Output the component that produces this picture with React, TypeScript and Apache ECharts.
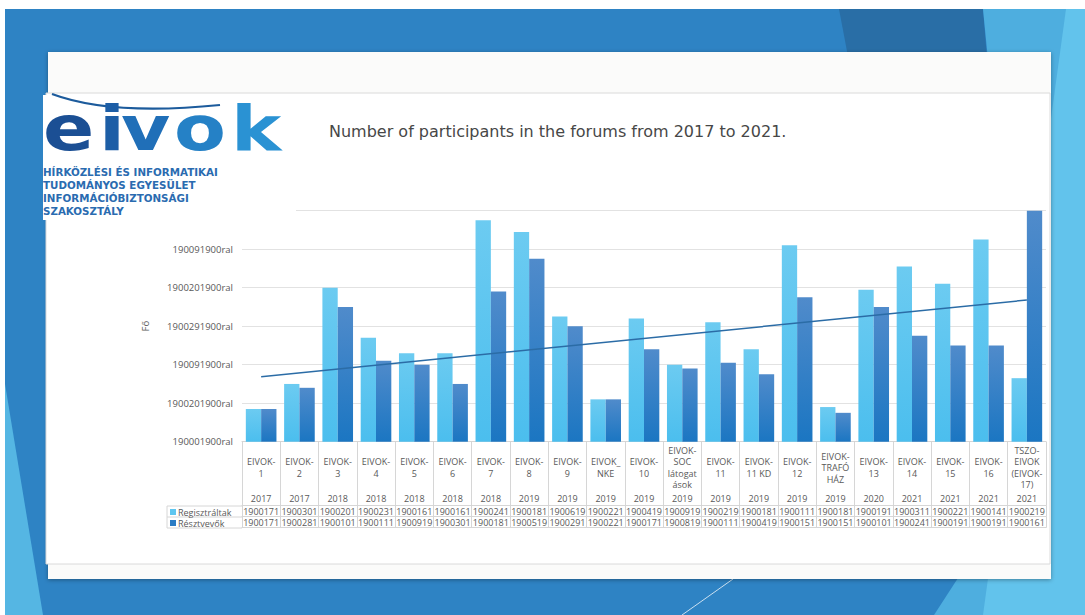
import React, { useEffect, useRef } from "react";
import * as echarts from "echarts";

const categories = [
  "EIVOK-\n1", "EIVOK-\n2", "EIVOK-\n3", "EIVOK-\n4", "EIVOK-\n5", "EIVOK-\n6", "EIVOK-\n7",
  "EIVOK-\n8", "EIVOK-\n9", "EIVOK_\nNKE", "EIVOK-\n10", "EIVOK-\nSOC\nlátogat\nások",
  "EIVOK-\n11", "EIVOK-\n11 KD", "EIVOK-\n12", "EIVOK-\nTRAFÓ\nHÁZ", "EIVOK-\n13",
  "EIVOK-\n14", "EIVOK-\n15", "EIVOK-\n16", "TSZO-\nEIVOK\n(EIVOK-\n17)",
];
const years = [
  "2017", "2017", "2018", "2018", "2018", "2018", "2018", "2019", "2019", "2019", "2019",
  "2019", "2019", "2019", "2019", "2019", "2020", "2021", "2021", "2021", "2021",
];
// values
const regisztraltak = [17, 30, 80, 54, 46, 46, 115, 109, 65, 22, 64, 40, 62, 48, 102, 18, 79, 91, 82, 105, 33];
const resztvevok = [17, 28, 70, 42, 40, 30, 78, 95, 60, 22, 48, 38, 41, 35, 75, 15, 70, 55, 50, 50, 120];
// data table texts as printed in the picture
const regTableLabels = [
  "1900171", "1900301", "1900201", "1900231", "1900161", "1900161", "1900241", "1900181",
  "1900619", "1900221", "1900419", "1900919", "1900219", "1900181", "1900111", "1900181",
  "1900191", "1900311", "1900221", "1900141", "1900219",
];
const resTableLabels = [
  "1900171", "1900281", "1900101", "1900111", "1900919", "1900301", "1900181", "1900519",
  "1900291", "1900221", "1900171", "1900819", "1900111", "1900419", "1900151", "1900151",
  "1900101", "1900241", "1900191", "1900191", "1900161",
];
// y tick labels for 0,20,...,120 as printed
const yTickLabels = [
  "190001900ral", "1900201900ral", "190091900ral", "1900291900ral", "1900201900ral", "190091900ral", "",
];
const trendStart = 33.7;
const trendEnd = 73.6;

const seriesNames = ["Regisztráltak", "Résztvevők"];
const titleText = "Number of participants in the forums from 2017 to 2021.";
const logoLetters = ["e", "i", "v", "o", "k"];
const logoLines = [
  "HÍRKÖZLÉSI ÉS INFORMATIKAI",
  "TUDOMÁNYOS EGYESÜLET",
  "INFORMÁCIÓBIZTONSÁGI",
  "SZAKOSZTÁLY",
];

const FONT = "Open Sans";
const LBL = "#595959";
const TBL = "#d6d6d6";
const GL = 242;
const GR = 1046;
const GB = 441.7;

// layout of the logo letters (position / colour only)
const letterX = [43, 99, 121, 174, 231];
const letterColor = ["#1b4f94", "#1d5ea6", "#206fb8", "#2581c6", "#2a92d3"];

function buildOption(): any {
  const trend = categories.map((_, i) =>
    i === 0 ? trendStart : i === categories.length - 1 ? trendEnd : null
  );
  const lightGrad = new echarts.graphic.LinearGradient(0, 0, 0, 1, [
    { offset: 0, color: "#6ccbf1" },
    { offset: 1, color: "#4bbeee" },
  ]);
  const darkGrad = new echarts.graphic.LinearGradient(0, 0, 0, 1, [
    { offset: 0, color: "#508bcb" },
    { offset: 1, color: "#1b76c2" },
  ]);
  const tableAxis = (data: string[], offset: number, tickLen: number, margin: number, showLabel: boolean, showLine: boolean) => ({
    type: "category",
    data,
    position: "bottom",
    offset,
    boundaryGap: true,
    axisLine: { show: showLine, lineStyle: { color: TBL, width: 1 } },
    axisTick: { show: tickLen > 0, interval: 0, length: tickLen, lineStyle: { color: TBL, width: 1 } },
    axisLabel: {
      show: showLabel,
      interval: 0,
      margin,
      verticalAlign: "middle",
      fontSize: 9,
      color: LBL,
      fontFamily: FONT,
    },
    splitLine: { show: false },
  });

  const tableLines = [506, 517, 528].map((y) => ({
    type: "line",
    z: 5,
    shape: { x1: 167, y1: y, x2: GL, y2: y },
    style: { stroke: TBL, lineWidth: 1 },
  }));

  return {
    animation: false,
    backgroundColor: "#ffffff",
    title: {
      text: titleText,
      left: 324,
      top: 118,
      textStyle: { fontSize: 16, color: "#474747", fontWeight: "normal", fontFamily: "DejaVu Sans" },
    },
    grid: { left: GL, right: 1085 - GR, top: 210.7, bottom: 615 - GB, containLabel: false },
    xAxis: [
      {
        type: "category",
        data: categories,
        position: "bottom",
        boundaryGap: true,
        axisLine: { show: true, lineStyle: { color: TBL } },
        axisTick: { show: true, interval: 0, length: 64, lineStyle: { color: TBL } },
        axisLabel: {
          interval: 0,
          margin: 26,
          verticalAlign: "middle",
          lineHeight: 11.5,
          fontSize: 9,
          color: LBL,
          fontFamily: FONT,
        },
      },
      tableAxis(years, 0, 0, 57, true, false),
      tableAxis(regTableLabels, 64, 11, 5.5, true, true),
      tableAxis(resTableLabels, 75, 11, 5.5, true, true),
      tableAxis(years, 86, 0, 5, false, true),
    ],
    yAxis: {
      type: "value",
      min: 0,
      max: 120,
      interval: 20,
      name: "Fő",
      nameLocation: "middle",
      nameGap: 92,
      nameRotate: 90,
      nameTextStyle: { fontSize: 9.5, color: LBL, fontFamily: FONT },
      axisLine: { show: false },
      axisTick: { show: false },
      axisLabel: {
        margin: 9,
        fontSize: 9.5,
        color: LBL,
        fontFamily: FONT,
        formatter: (v: number) => yTickLabels[Math.round(v / 20)] ?? "",
      },
      splitLine: { lineStyle: { color: "#e2e2e2", width: 1 } },
    },
    series: [
      {
        name: seriesNames[0],
        type: "bar",
        data: regisztraltak,
        barGap: "0%",
        barCategoryGap: "20%",
        itemStyle: { color: lightGrad },
      },
      {
        name: seriesNames[1],
        type: "bar",
        data: resztvevok,
        barGap: "0%",
        barCategoryGap: "20%",
        itemStyle: { color: darkGrad },
      },
      {
        name: "trend",
        type: "line",
        data: trend,
        connectNulls: true,
        symbol: "none",
        z: 5,
        lineStyle: { color: "#2b6ca6", width: 1.5 },
      },
    ],
    graphic: [
      { type: "rect", z: -10, shape: { x: 5, y: 9, width: 1080, height: 606 }, style: { fill: "#2e83c4" } },
      { type: "polygon", z: -9, shape: { points: [[5, 384], [5, 615], [43, 615]] }, style: { fill: "#55b6e3" } },
      { type: "polygon", z: -9, shape: { points: [[839, 9], [983, 9], [992, 120], [860, 120]] }, style: { fill: "#296ea6" } },
      { type: "polygon", z: -9, shape: { points: [[983, 9], [1085, 9], [1085, 615], [934, 615], [958, 578], [992, 100]] }, style: { fill: "#4eaedf" } },
      { type: "polygon", z: -9, shape: { points: [[1066, 9], [1085, 9], [1085, 615], [983, 615]] }, style: { fill: "#62c3ec" } },
      { type: "line", z: -8, shape: { x1: 733, y1: 579, x2: 682, y2: 615 }, style: { stroke: "rgba(255,255,255,0.75)", lineWidth: 1 } },
      {
        type: "rect",
        z: -6,
        shape: { x: 48, y: 52, width: 1003, height: 527 },
        style: { fill: "#fbfbfa", shadowBlur: 4, shadowOffsetY: 1, shadowColor: "rgba(0,0,0,0.35)" },
      },
      { type: "rect", z: -5, shape: { x: 46, y: 93, width: 1004, height: 471 }, style: { fill: "#ffffff", stroke: "#dadada", lineWidth: 1 } },
      // logo
      { type: "rect", z: 10, shape: { x: 43, y: 95, width: 253, height: 125 }, style: { fill: "#ffffff" } },
      {
        type: "bezierCurve",
        z: 11,
        shape: { x1: 52, y1: 94, cpx1: 100, cpy1: 112, cpx2: 170, cpy2: 110, x2: 220, y2: 105 },
        style: { stroke: "#1c5b9c", lineWidth: 2.2, fill: null },
      },
      ...logoLetters.map((ch, i) => ({
        type: "text",
        z: 11,
        x: letterX[i],
        y: 128,
        scaleX: 1.22,
        style: {
          text: ch,
          fontSize: 62,
          fontWeight: "bold",
          fontFamily: "DejaVu Sans",
          fill: letterColor[i],
          verticalAlign: "middle",
          align: "left",
        },
      })),
      ...logoLines.map((t, i) => ({
        type: "text",
        z: 11,
        x: 43,
        y: 172 + i * 13,
        style: {
          text: t,
          fontSize: 10.3,
          fontWeight: "bold",
          fontFamily: "DejaVu Sans",
          fill: "#2a6bb0",
          verticalAlign: "middle",
          align: "left",
        },
      })),
      // data table left header
      ...tableLines,
      { type: "line", z: 5, shape: { x1: 167, y1: 506, x2: 167, y2: 528 }, style: { stroke: TBL, lineWidth: 1 } },
      { type: "rect", z: 5, shape: { x: 170, y: 509, width: 6, height: 6 }, style: { fill: "#5ec6f0" } },
      { type: "rect", z: 5, shape: { x: 170, y: 520, width: 6, height: 6 }, style: { fill: "#2a7cc4" } },
      {
        type: "text", z: 5, x: 178, y: 512,
        style: { text: seriesNames[0], fontSize: 9, fontFamily: FONT, fill: LBL, verticalAlign: "middle" },
      },
      {
        type: "text", z: 5, x: 178, y: 523,
        style: { text: seriesNames[1], fontSize: 9, fontFamily: FONT, fill: LBL, verticalAlign: "middle" },
      },
    ],
  };
}

export default function App() {
  const ref = useRef<HTMLDivElement>(null);
  useEffect(() => {
    if (!ref.current) return;
    const chart = echarts.init(ref.current, null, { renderer: "svg" });
    chart.setOption(buildOption());
    return () => chart.dispose();
  }, []);
  return (
    <div
      ref={ref}
      style={{ position: "fixed", left: 0, top: 0, width: 1085, height: 615 }}
    />
  );
}
